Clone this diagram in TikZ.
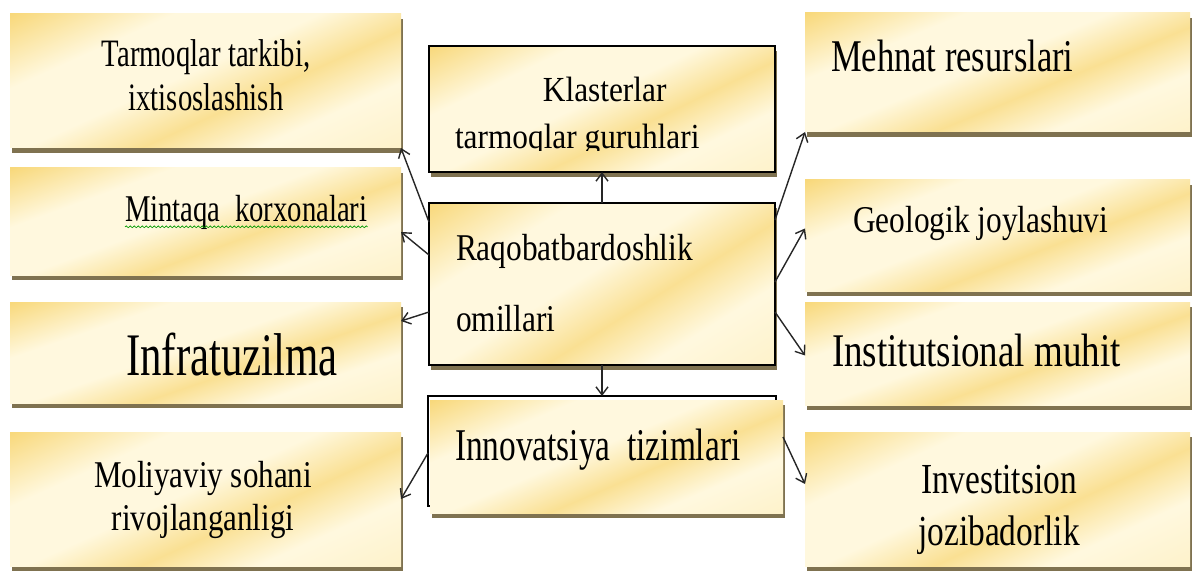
\documentclass[tikz,border=0pt]{standalone}
\usepackage{fontspec}
\setmainfont{Liberation Serif}
\usepackage{graphicx}
\usetikzlibrary{arrows.meta,shadows,fit,calc,decorations.pathmorphing}
\definecolor{gA}{RGB}{248,216,122}
\definecolor{gB}{RGB}{255,248,222}
\definecolor{shc}{RGB}{105,90,50}
\pgfdeclarefunctionalshading{goldf}{\pgfpoint{0bp}{0bp}}{\pgfpoint{100bp}{100bp}}{}{
  25 sub 50 div -0.43 mul 0.43 add
  exch 25 sub 50 div 0.57 mul add
  dup 0.24 div 1 exch sub dup 0 lt {pop 0} if
  exch
  dup 0.62 sub abs 0.17 div 1 exch sub dup 0 lt {pop 0} if 0.75 mul
  exch
  0.8 sub 0.2 div dup 0 lt {pop 0} if 0.2 mul
  add add
  dup 1 gt {pop 1} if
  dup -0.027 mul 1 add exch
  dup -0.126 mul 0.973 add exch
  -0.393 mul 0.871 add
}
\newcommand\boxtext[5]{\scalebox{#1}[1]{\fontsize{#2}{#3}\selectfont\begin{tabular}[t]{@{}#4@{}}#5\end{tabular}}}
\begin{document}
\begin{tikzpicture}[x=0.5pt,y=-0.5pt,
  box/.style={inner sep=0pt, outer sep=0pt, shade, shading=goldf,
    drop shadow={shadow xshift=0.8pt, shadow yshift=-2.6pt, fill=shc, opacity=0.85}},
  framed/.style={draw=black, line width=1pt},
  txt/.style={inner sep=0pt, outer sep=0pt, text=black},
  conn/.style={draw=black!85, line width=0.7pt, -{Straight Barb[length=4pt,width=6pt]}}]
\useasboundingbox[fill=white] (0,0) rectangle (1193,572);

% black outline behind the innovation box
\path[draw=black, line width=1.2pt] (428,396) rectangle (776,506);

% left column
\node[box, fit={(10,14)(401,148)}] (L1) {};
\node[box, fit={(10,168)(401,275)}] (L2) {};
\node[box, fit={(10,302)(401,403)}] (L3) {};
\node[box, fit={(10,432)(401,566)}] (L4) {};
% centre column
\node[box, framed, fit={(429,46)(775,172)}] (C1) {};
\node[box, framed, fit={(429,203)(775,365)}] (C2) {};
\node[box, fit={(430,400)(783,513)}] (C3) {};
% right column
\node[box, fit={(805,13)(1190,132)}] (R1) {};
\node[box, fit={(805,180)(1190,291)}] (R2) {};
\node[box, fit={(805,302)(1190,405)}] (R3) {};
\node[box, fit={(805,432)(1190,566)}] (R4) {};

% texts
\node[txt, anchor=base] (t1) at (206,67) {\boxtext{0.74}{19.4pt}{22pt}{c}{Tarmoqlar tarkibi,\\ ixtisoslashish}};
\node[txt, anchor=base west] (t2) at (125,222) {\boxtext{0.76}{18.9pt}{22pt}{l}{Mintaqa\ \ korxonalari}};
\node[txt, anchor=base west] (t3) at (126,375) {\boxtext{0.71}{30.2pt}{34pt}{l}{Infratuzilma}};
\node[txt, anchor=base] (t4) at (203,487) {\boxtext{0.82}{18.9pt}{21.7pt}{c}{Moliyaviy sohani\\ rivojlanganligi}};
\begin{scope}
\clip (429,46) rectangle (775,151);
\node[txt, anchor=base west] (t5) at (455,102) {\boxtext{0.89}{17.6pt}{23.3pt}{l}{\hspace*{49.4pt}Klasterlar\\ tarmoqlar guruhlari}};
\end{scope}
\node[txt, anchor=base west] (t6) at (456,260) {\boxtext{0.83}{18.9pt}{35.8pt}{l}{Raqobatbardoshlik\\ omillari}};
\node[txt, anchor=base west] (t7) at (455,460) {\boxtext{0.735}{22.7pt}{26pt}{l}{Innovatsiya\ \ tizimlari}};
\node[txt, anchor=base west] (t8) at (831,72) {\boxtext{0.76}{22.7pt}{26pt}{l}{Mehnat resurslari}};
\node[txt, anchor=base west] (t9) at (853,233) {\boxtext{0.83}{18.9pt}{22pt}{l}{Geologik joylashuvi}};
\node[txt, anchor=base west] (t10) at (832,366) {\boxtext{0.79}{23.4pt}{27pt}{l}{Institutsional muhit}};
\node[txt, anchor=base] (t11) at (999,493) {\boxtext{0.78}{21.4pt}{26pt}{c}{Investitsion\\ jozibadorlik}};

% spell-check underline
\draw[green!60!black, line width=0.35pt, decorate, decoration={snake, amplitude=0.45pt, segment length=2pt}]
  ([yshift=-2.4pt]t2.base west) -- ([yshift=-2.4pt]t2.base east);

% connectors
\draw[conn] ([yshift=-9.5pt]C2.north west) -- (L1.south east);
\draw[conn] ([yshift=-26pt]C2.north west) -- ([yshift=-5.25pt]L2.east);
\draw[conn] ([yshift=-54.5pt]C2.north west) -- ([yshift=-9.5pt]L3.north east);
\draw[conn] (C2.north) -- (C2.north |- C1.south);
\draw[conn] (C2.south) -- ([yshift=2pt]C2.south |- C3.north);
\draw[conn] ([yshift=-8.5pt]C2.north east) -- (R1.south west);
\draw[conn] ([yshift=-39.5pt]C2.north east) -- ([yshift=3.5pt]R2.west);
\draw[conn] ([yshift=-54.5pt]C2.north east) -- ([yshift=-1pt]R3.west);
\draw[conn] ([shift={(-1pt,-26.5pt)}]C3.north west) -- (L4.east);
\draw[conn] ([yshift=-18.5pt]C3.north east) -- ([yshift=7.5pt]R4.west);
\end{tikzpicture}
\end{document}
